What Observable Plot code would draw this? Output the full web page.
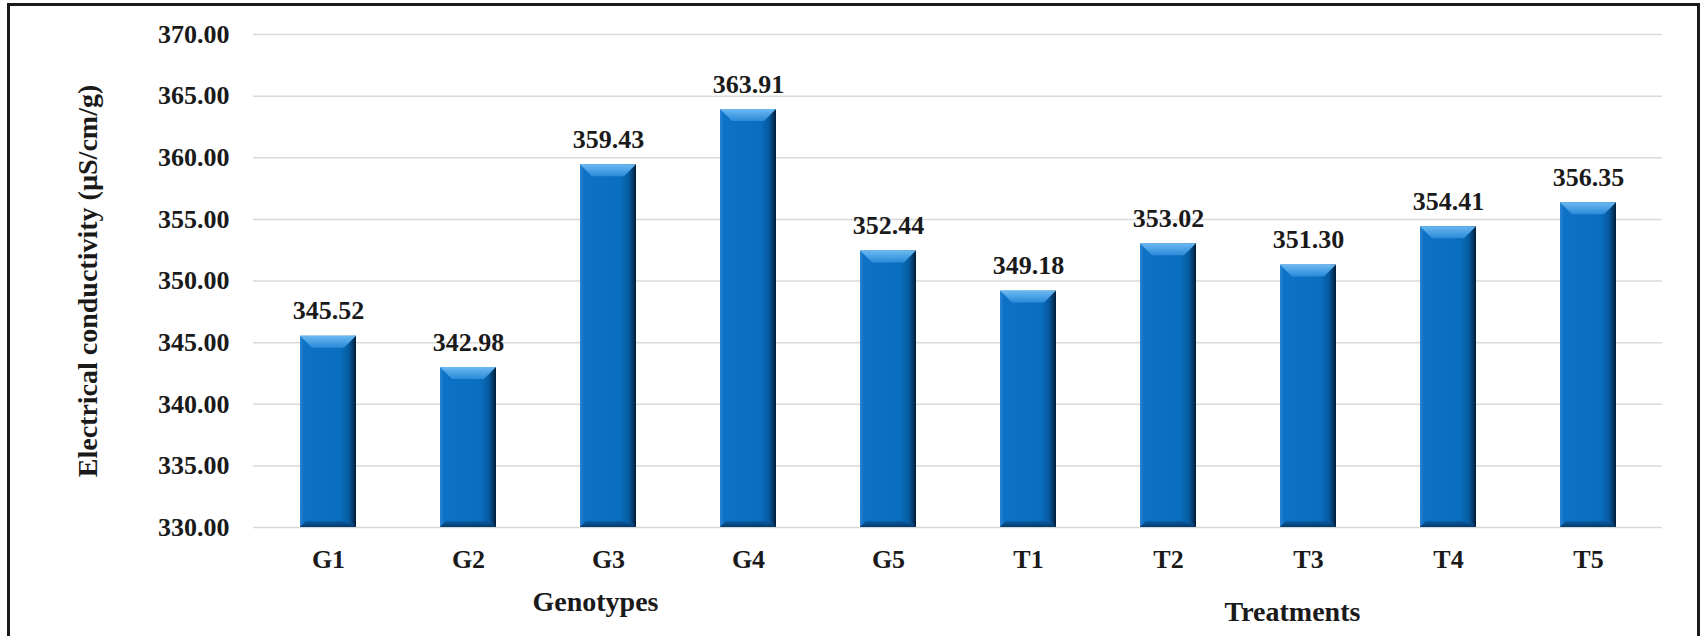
<!DOCTYPE html>
<html>
<head>
<meta charset="utf-8">
<script src="https://cdn.jsdelivr.net/npm/d3@7"></script>
<script src="https://cdn.jsdelivr.net/npm/@observablehq/plot@0.6"></script>
<style>
  body { margin: 0; background: #fff; }
  #wrap { position: relative; width: 1702px; height: 636px; overflow: hidden; background: #fff; }
  #border { position: absolute; left: 7px; top: 3px; width: 1693px; height: 700px; border: 3px solid #1a1a1a; box-sizing: border-box; pointer-events: none; }
</style>
</head>
<body>
<div id="wrap"><div id="border"></div></div>
<script>
// ---- data ----
const categories = ["G1", "G2", "G3", "G4", "G5", "T1", "T2", "T3", "T4", "T5"];
const values = [345.52, 342.98, 359.43, 363.91, 352.44, 349.18, 353.02, 351.30, 354.41, 356.35];
const yTicks = [330, 335, 340, 345, 350, 355, 360, 365, 370];
const yDomain = [330, 370];
const yTitle = "Electrical conductivity (µS/cm/g)";
const groupLabels = ["Genotypes", "Treatments"];
const groupAt = ["G3", "T3"];

const data = categories.map((c, i) => ({category: c, value: values[i]}));
const groups = groupLabels.map((g, i) => ({label: g, at: groupAt[i]}));

const ns = "http://www.w3.org/2000/svg";
const defsMark = () => {
  const defs = document.createElementNS(ns, "defs");
  defs.innerHTML = `
    <linearGradient id="barGrad" x1="0" y1="0" x2="1" y2="0">
      <stop offset="0" stop-color="#2b84d2"/>
      <stop offset="0.07" stop-color="#0d72c6"/>
      <stop offset="0.72" stop-color="#0a6ec0"/>
      <stop offset="0.88" stop-color="#07589c"/>
      <stop offset="1" stop-color="#021d36"/>
    </linearGradient>
    <linearGradient id="topGrad" x1="0" y1="0" x2="0" y2="1">
      <stop offset="0" stop-color="#6cb9f2"/>
      <stop offset="1" stop-color="#2a8ad8"/>
    </linearGradient>
    <linearGradient id="botGrad" x1="0" y1="0" x2="0" y2="1">
      <stop offset="0" stop-color="#0a5ea6"/>
      <stop offset="1" stop-color="#053a6a"/>
    </linearGradient>`;
  return defs;
};

function bevel(index, scales, vals, dims, ctx, next) {
  const g = next(index, scales, vals, dims, ctx);
  const b = 12, bb = 6;
  g.querySelectorAll("rect").forEach(r => {
    const x = +r.getAttribute("x"), y = +r.getAttribute("y");
    const w = +r.getAttribute("width"), h = +r.getAttribute("height");
    const top = document.createElementNS(ns, "polygon");
    top.setAttribute("points", `${x},${y} ${x + w},${y} ${x + w - b},${y + b} ${x + b},${y + b}`);
    top.setAttribute("fill", "url(#topGrad)");
    g.appendChild(top);
    const bot = document.createElementNS(ns, "polygon");
    bot.setAttribute("points", `${x + bb},${y + h - bb} ${x + w - bb},${y + h - bb} ${x + w},${y + h} ${x},${y + h}`);
    bot.setAttribute("fill", "url(#botGrad)");
    g.appendChild(bot);
  });
  return g;
}

const chart = Plot.plot({
  width: 1702,
  height: 636,
  marginLeft: 253,
  marginRight: 40,
  marginTop: 34,
  marginBottom: 109,
  style: {fontFamily: "'Liberation Serif', 'Times New Roman', serif", fontWeight: "bold", fontSize: "26px", color: "#1a1a1a", background: "transparent"},
  x: {domain: categories, paddingInner: 0.6, paddingOuter: 0.3, label: null},
  y: {domain: yDomain, label: null},
  marks: [
    defsMark,
    Plot.gridY(yTicks, {stroke: "#d9d9d9", strokeOpacity: 1, strokeWidth: 1.5}),
    Plot.axisY({ticks: yTicks, tickFormat: d3.format(".2f"), tickSize: 0, tickPadding: 24, label: null, fontSize: 26}),
    Plot.axisX({tickSize: 0, tickPadding: 22, label: null, fontSize: 26}),
    Plot.barY(data, {x: "category", y1: yDomain[0], y2: "value", fill: "url(#barGrad)", render: bevel}),
    Plot.text(data, {x: "category", y: "value", text: d => d3.format(".2f")(d.value), lineAnchor: "bottom", dy: -17, fontSize: 26, fill: "#1a1a1a"}),
    Plot.text([yTitle], {frameAnchor: "left", textAnchor: "middle", dx: -157, rotate: -90, lineAnchor: "bottom", fontSize: 28, fill: "#1a1a1a"}),
    Plot.text([groups[0]], {x: "at", text: "label", frameAnchor: "bottom", dy: 83, dx: -13, lineAnchor: "bottom", fontSize: 28, fill: "#1a1a1a"}),
    Plot.text([groups[1]], {x: "at", text: "label", frameAnchor: "bottom", dy: 93, dx: -16, lineAnchor: "bottom", fontSize: 28, fill: "#1a1a1a"})
  ]
});
document.getElementById("wrap").insertBefore(chart, document.getElementById("border"));
</script>
</body>
</html>
